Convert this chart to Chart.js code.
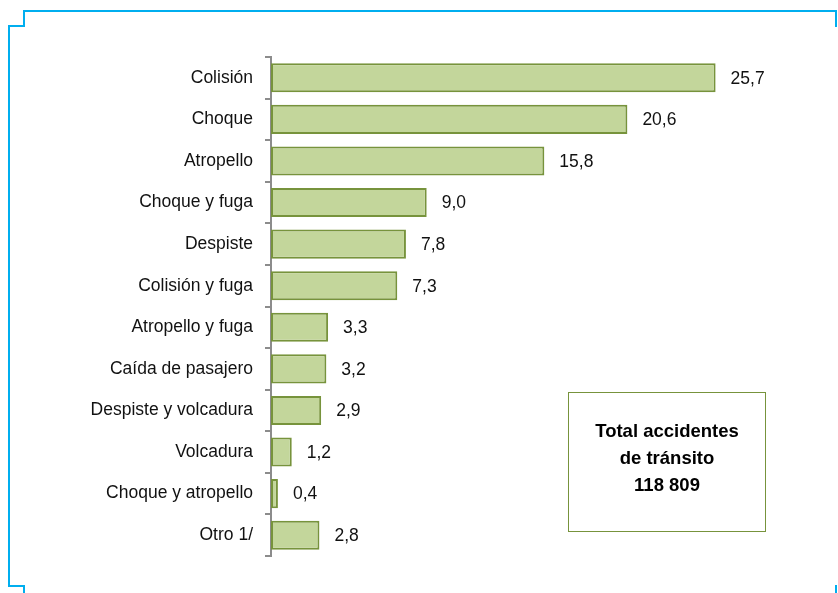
<!DOCTYPE html>
<html>
<head>
<meta charset="utf-8">
<script src="https://cdn.jsdelivr.net/npm/chart.js@4.4.1/dist/chart.umd.min.js"></script>
<style>
  html, body { margin: 0; padding: 0; background: #fff; }
  #wrap { width: 838px; height: 593px; position: relative; }
</style>
</head>
<body>
<div id="wrap"><canvas id="chart-accidentes"></canvas></div>
<script>
// Data
const categories = ['Colisión', 'Choque', 'Atropello', 'Choque y fuga', 'Despiste', 'Colisión y fuga',
  'Atropello y fuga', 'Caída de pasajero', 'Despiste y volcadura', 'Volcadura', 'Choque y atropello', 'Otro 1/'];
const percentages = [25.7, 20.6, 15.8, 9.0, 7.8, 7.3, 3.3, 3.2, 2.9, 1.2, 0.4, 2.8];
const totalLines = ['Total accidentes', 'de tránsito', '118 809'];

const FONT = "'Liberation Sans', Arial, sans-serif";

// White background + blue frame with stepped corners
const framePlugin = {
  id: 'frame',
  beforeDraw(chart) {
    const ctx = chart.ctx;
    ctx.save();
    ctx.fillStyle = '#fff';
    ctx.fillRect(0, 0, chart.width, chart.height);
    ctx.strokeStyle = '#00aeef';
    ctx.lineWidth = 2;
    ctx.beginPath();
    ctx.moveTo(24, 593);
    ctx.lineTo(24, 586);
    ctx.lineTo(9, 586);
    ctx.lineTo(9, 26);
    ctx.lineTo(24, 26);
    ctx.lineTo(24, 11);
    ctx.lineTo(836, 11);
    ctx.lineTo(836, 27);
    ctx.stroke();
    ctx.beginPath();
    ctx.moveTo(836, 585);
    ctx.lineTo(836, 593);
    ctx.stroke();
    ctx.restore();
  }
};

// Value labels at bar ends + total box
const labelPlugin = {
  id: 'valueLabels',
  afterDatasetsDraw(chart) {
    const ctx = chart.ctx;
    const meta = chart.getDatasetMeta(0);
    ctx.save();
    ctx.font = '17.5px ' + FONT;
    ctx.fillStyle = '#111';
    ctx.textBaseline = 'middle';
    ctx.textAlign = 'left';
    meta.data.forEach((bar, i) => {
      const txt = percentages[i].toFixed(1).replace('.', ',');
      ctx.fillText(txt, bar.x + 15, bar.y + 1);
    });

    // total box
    ctx.strokeStyle = '#77933c';
    ctx.lineWidth = 1;
    ctx.strokeRect(568.5, 392.5, 197, 139);
    ctx.font = 'bold 18.5px ' + FONT;
    ctx.textAlign = 'center';
    ctx.fillStyle = '#000';
    totalLines.forEach((t, i) => {
      ctx.fillText(t, 667, 432 + i * 27);
    });
    ctx.restore();
  }
};

new Chart(document.getElementById('chart-accidentes'), {
  type: 'bar',
  data: {
    labels: categories,
    datasets: [{
      data: percentages,
      backgroundColor: '#c3d69b',
      borderColor: '#77933c',
      borderWidth: 2,
      borderSkipped: false,
      categoryPercentage: 1,
      barPercentage: 0.7
    }]
  },
  options: {
    indexAxis: 'y',
    responsive: true,
    maintainAspectRatio: false,
    animation: false,
    layout: {
      padding: { top: 57, bottom: 37, left: 0, right: 48 }
    },
    plugins: {
      legend: { display: false },
      tooltip: { enabled: false }
    },
    scales: {
      x: {
        display: false,
        min: 0,
        max: 30
      },
      y: {
        afterFit(scale) { scale.width = 271; },
        grid: {
          offset: true,
          drawOnChartArea: false,
          drawTicks: true,
          tickLength: 6,
          color: '#8c8c8c',
          lineWidth: 2
        },
        border: { color: '#8c8c8c', width: 2 },
        ticks: {
          color: '#111',
          padding: 12,
          font: { family: FONT, size: 17.5 }
        }
      }
    }
  },
  plugins: [framePlugin, labelPlugin]
});
</script>
</body>
</html>
